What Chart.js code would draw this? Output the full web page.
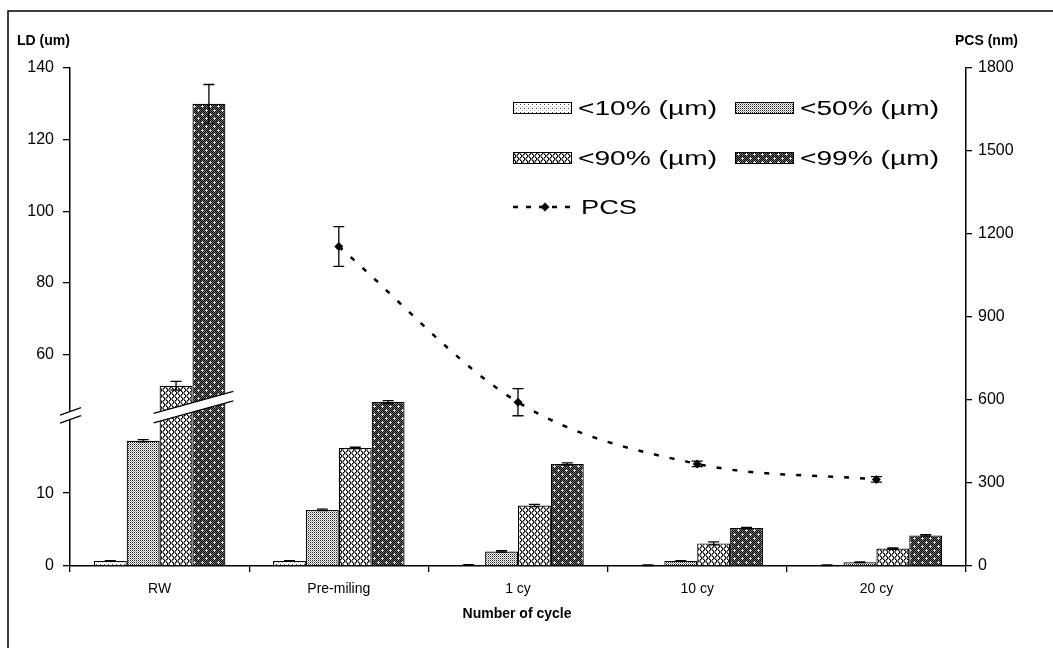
<!DOCTYPE html>
<html>
<head>
<meta charset="utf-8">
<script src="https://cdn.jsdelivr.net/npm/chart.js@4.4.1/dist/chart.umd.min.js"></script>
<style>
  html, body { margin: 0; padding: 0; background: #fff; }
  canvas { display: block; }
</style>
</head>
<body>
<canvas id="chart" width="1053" height="648"></canvas>
<script>
// values
const cycles = ['RW', 'Pre-miling', '1 cy', '10 cy', '20 cy']
const seriesNames = ['<10% (µm)', '<50% (µm)', '<90% (µm)', '<99% (µm)']
const ld10 = [0.7, 0.7, 0.15, 0.1, 0.1]
const ld50 = [17.2, 7.7, 2.0, 0.7, 0.5]
const ld90 = [51.3, 16.2, 8.3, 3.1, 2.4]
const ld99 = [130, 22.5, 14.0, 5.2, 4.2]
const ld10Err = [0.05, 0.05, 0.05, 0.05, 0.05]
const ld50Err = [0.15, 0.1, 0.1, 0.05, 0.05]
const ld90Err = [1.2, 0.1, 0.15, 0.2, 0.1]
const ld99Err = [5.4, 0.2, 0.15, 0.1, 0.1]
const pcs = [null, 1155, 592, 369, 313]
const pcsErr = [null, 72, 49, 10, 10]
const ldTicks = [0, 10, 60, 80, 100, 120, 140]
const pcsTicks = [0, 300, 600, 900, 1200, 1500, 1800]

// broken left axis: 0..24 keeps full scale, 50..140 is squeezed
const LOW_TOP = 24
const HIGH_BOTTOM = 50
const GAP = 0.1
const HIGH_RATIO = 0.4917
const BAND_VALUE = 21.8   // where the bars are cut
const AXIS_CUT_VALUE = 20.65

class BrokenScale extends Chart.LinearScale {
  static id = 'broken'
  fwd(v) {
    if (v <= LOW_TOP) return v
    if (v >= HIGH_BOTTOM) return LOW_TOP + GAP + (v - HIGH_BOTTOM) * HIGH_RATIO
    return LOW_TOP + (v - LOW_TOP) / (HIGH_BOTTOM - LOW_TOP) * GAP
  }
  inv(u) {
    if (u <= LOW_TOP) return u
    if (u >= LOW_TOP + GAP) return HIGH_BOTTOM + (u - LOW_TOP - GAP) / HIGH_RATIO
    return LOW_TOP + (u - LOW_TOP) / GAP * (HIGH_BOTTOM - LOW_TOP)
  }
  getPixelForValue(value) {
    const a = this.fwd(this.min), b = this.fwd(this.max)
    return this.getPixelForDecimal((this.fwd(value) - a) / (b - a))
  }
  getValueForPixel(pixel) {
    const a = this.fwd(this.min), b = this.fwd(this.max)
    return this.inv(a + this.getDecimalForPixel(pixel) * (b - a))
  }
}
Chart.register(BrokenScale)

function makePattern(size, paint) {
  const c = document.createElement('canvas')
  c.width = size[0]
  c.height = size[1]
  const g = c.getContext('2d')
  g.fillStyle = '#fff'
  g.fillRect(0, 0, size[0], size[1])
  paint(g)
  return g.createPattern(c, 'repeat')
}
const px = (g, x, y, col) => { g.fillStyle = col; g.fillRect(x, y, 1, 1) }

const ctx = document.getElementById('chart').getContext('2d')

const fills = [
  // sparse dots
  makePattern([4, 4], g => { px(g, 0, 0, '#444'); px(g, 2, 2, '#aaa') }),
  // fine dots
  makePattern([2, 2], g => { px(g, 0, 0, '#222'); px(g, 1, 1, '#999') }),
  // diamond crosshatch
  makePattern([6, 6], g => {
    for (let i = 0; i < 6; i++) {
      px(g, i, i, '#000'); px(g, 5 - i, i, '#000')
      px(g, (i + 1) % 6, i, '#777'); px(g, (6 - i) % 6, i, '#777')
    }
  }),
  // dark checker with light spots
  makePattern([8, 8], g => {
    for (let y = 0; y < 8; y++) for (let x = 0; x < 8; x++) {
      px(g, x, y, (x + y) % 2 === 0 ? '#000' : '#6a6a6a')
    }
    const cross = (cx, cy) => {
      px(g, cx, cy, '#fff'); px(g, cx - 1, cy, '#ddd'); px(g, cx + 1, cy, '#ddd')
      px(g, cx, cy - 1, '#ddd'); px(g, cx, cy + 1, '#ddd')
    }
    cross(2, 2); cross(6, 6)
  })
]

const ldSeries = [ld10, ld50, ld90, ld99]
const ldErrors = [ld10Err, ld50Err, ld90Err, ld99Err]

const barSets = ldSeries.map((data, i) => ({
  type: 'bar',
  label: seriesNames[i],
  data,
  yAxisID: 'y',
  backgroundColor: fills[i],
  borderColor: '#000',
  borderWidth: 1.2,
  borderSkipped: 'start',
  categoryPercentage: 0.734,
  barPercentage: 1.0,
  order: 1
}))

const pcsSet = {
  type: 'line',
  label: 'PCS',
  data: pcs,
  yAxisID: 'y2',
  borderColor: '#000',
  backgroundColor: '#000',
  borderWidth: 2.5,
  borderDash: [5, 11],
  cubicInterpolationMode: 'monotone',
  pointStyle: 'rectRot',
  pointRadius: 4.5,
  pointBorderWidth: 0,
  fill: false,
  order: 0
}

function drawErrBar(g, x, yTop, yBot) {
  g.beginPath()
  g.moveTo(x, yTop); g.lineTo(x, yBot)
  g.moveTo(x - 5.5, yTop); g.lineTo(x + 5.5, yTop)
  g.moveTo(x - 5.5, yBot); g.lineTo(x + 5.5, yBot)
  g.stroke()
}

const extras = {
  id: 'extras',
  beforeDraw(chart) {
    const g = chart.ctx
    g.save()
    g.fillStyle = '#fff'
    g.fillRect(0, 0, chart.width, chart.height)
    g.restore()
  },
  afterDatasetsDraw(chart) {
    const g = chart.ctx
    const y = chart.scales.y, y2 = chart.scales.y2
    g.save()
    g.strokeStyle = '#000'
    g.lineWidth = 1.3

    // cut through the tall RW bars
    const e2 = chart.getDatasetMeta(2).data[0]
    const e3 = chart.getDatasetMeta(3).data[0]
    const x0 = e2.x - e2.width / 2 - 6
    const x1 = e3.x + e3.width / 2 + 8
    const xm = (x0 + x1) / 2
    const yc = y.getPixelForValue(BAND_VALUE)
    const s = -0.276, h = 4.7
    g.fillStyle = '#fff'
    g.beginPath()
    g.moveTo(x0, yc - h + s * (x0 - xm))
    g.lineTo(x1, yc - h + s * (x1 - xm))
    g.lineTo(x1, yc + h + s * (x1 - xm))
    g.lineTo(x0, yc + h + s * (x0 - xm))
    g.closePath()
    g.fill()
    g.beginPath()
    g.moveTo(x0, yc - h + s * (x0 - xm)); g.lineTo(x1, yc - h + s * (x1 - xm))
    g.moveTo(x0, yc + h + s * (x0 - xm)); g.lineTo(x1, yc + h + s * (x1 - xm))
    g.stroke()

    // error bars on LD bars
    ldSeries.forEach((data, i) => {
      const meta = chart.getDatasetMeta(i)
      data.forEach((v, j) => {
        const err = ldErrors[i][j]
        if (v == null || !err) return
        const el = meta.data[j]
        drawErrBar(g, el.x, y.getPixelForValue(v + err), y.getPixelForValue(Math.max(0, v - err)))
      })
    })
    // error bars on PCS
    const lm = chart.getDatasetMeta(4)
    pcs.forEach((v, j) => {
      if (v == null) return
      const el = lm.data[j]
      drawErrBar(g, el.x, y2.getPixelForValue(v + pcsErr[j]), y2.getPixelForValue(v - pcsErr[j]))
    })
    g.restore()
  },
  afterDraw(chart) {
    const g = chart.ctx
    const area = chart.chartArea
    const y = chart.scales.y
    g.save()
    g.strokeStyle = '#000'

    // break marks on the left axis
    const ax = area.left
    const ac = y.getPixelForValue(AXIS_CUT_VALUE)
    const s = -0.35, h = 4
    g.fillStyle = '#fff'
    g.beginPath()
    g.moveTo(ax - 10, ac - h - s * 10)
    g.lineTo(ax + 11, ac - h + s * 11)
    g.lineTo(ax + 11, ac + h + s * 11)
    g.lineTo(ax - 10, ac + h - s * 10)
    g.closePath()
    g.fill()
    g.lineWidth = 1.3
    g.beginPath()
    g.moveTo(ax - 10, ac - h - s * 10); g.lineTo(ax + 11, ac - h + s * 11)
    g.moveTo(ax - 10, ac + h - s * 10); g.lineTo(ax + 11, ac + h + s * 11)
    g.stroke()

    // outer frame
    g.lineWidth = 1.5
    g.beginPath()
    g.moveTo(8, chart.height + 5); g.lineTo(8, 11); g.lineTo(chart.width + 5, 11)
    g.stroke()

    // axis titles
    g.fillStyle = '#000'
    g.font = 'bold 14px "Liberation Sans"'
    g.textBaseline = 'middle'
    g.textAlign = 'left'
    g.fillText('LD (um)', 17, 41)
    g.textAlign = 'right'
    g.fillText('PCS (nm)', 1018, 41)
    g.textAlign = 'center'
    g.fillText('Number of cycle', 517, 614)

    // legend
    const sw = 59, sh = 12
    const spots = [[513, 108], [735, 108], [513, 158], [735, 158]]
    g.font = '20px "Liberation Sans"'
    g.textAlign = 'left'
    const stretch = (text, x, yy, width) => {
      const w = g.measureText(text).width
      g.save()
      g.translate(x, yy)
      g.scale(width / w, 1)
      g.fillText(text, 0, 0)
      g.restore()
    }
    seriesNames.forEach((name, i) => {
      const [lx, ly] = spots[i]
      g.fillStyle = fills[i]
      g.fillRect(lx, ly - sh / 2, sw, sh)
      g.lineWidth = 1
      g.strokeRect(lx + 0.5, ly - sh / 2 + 0.5, sw - 1, sh - 1)
      g.fillStyle = '#000'
      stretch(name, lx + sw + 6, ly + 1, 139)
    })
    const py = 207
    g.lineWidth = 2.5
    g.setLineDash([5, 8])
    g.beginPath()
    g.moveTo(513, py); g.lineTo(578, py)
    g.stroke()
    g.setLineDash([])
    g.beginPath()
    g.moveTo(545, py - 4.5); g.lineTo(549.5, py); g.lineTo(545, py + 4.5); g.lineTo(540.5, py)
    g.closePath()
    g.fill()
    stretch('PCS', 581, py + 1, 56)
    g.restore()
  }
}

Chart.defaults.font.family = '"Liberation Sans", Arial, sans-serif'
Chart.defaults.color = '#000'

new Chart(ctx, {
  data: {
    labels: cycles,
    datasets: [...barSets, pcsSet]
  },
  options: {
    responsive: false,
    animation: false,
    events: [],
    layout: { padding: { top: 68, left: 0, right: 0, bottom: 0 } },
    plugins: {
      legend: { display: false },
      tooltip: { enabled: false },
      title: { display: false }
    },
    scales: {
      x: {
        type: 'category',
        offset: true,
        grid: { offset: true, drawOnChartArea: false, drawTicks: true, tickLength: 6, color: '#000', lineWidth: 1.3 },
        border: { color: '#000', width: 1.5 },
        ticks: { font: { size: 14 }, padding: 9, maxRotation: 0 },
        afterFit: s => { s.height = 82 }
      },
      y: {
        type: 'broken',
        position: 'left',
        min: 0,
        max: 140,
        afterBuildTicks: s => { s.ticks = ldTicks.map(v => ({ value: v })) },
        grid: { drawOnChartArea: false, drawTicks: true, tickLength: 7, color: '#000', lineWidth: 1.3 },
        border: { color: '#000', width: 1.5 },
        ticks: { autoSkip: false, font: { size: 16 }, padding: 9, callback: v => String(v) },
        afterFit: s => { s.width = 70 }
      },
      y2: {
        type: 'linear',
        position: 'right',
        min: 0,
        max: 1800,
        afterBuildTicks: s => { s.ticks = pcsTicks.map(v => ({ value: v })) },
        grid: { drawOnChartArea: false, drawTicks: true, tickLength: 6, color: '#000', lineWidth: 1.3 },
        border: { color: '#000', width: 1.5 },
        ticks: { autoSkip: false, font: { size: 16 }, padding: 6, callback: v => String(v) },
        afterFit: s => { s.width = 87 }
      }
    }
  },
  plugins: [extras]
})
</script>
</body>
</html>
